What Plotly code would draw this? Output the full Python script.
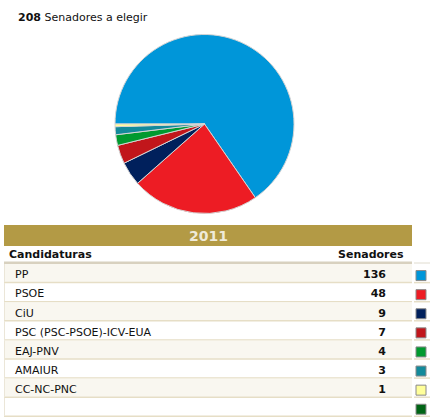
import plotly.graph_objects as go

# Senado 2011 - candidaturas y senadores
total = 208
anio = "2011"
partidos = ["PP", "PSOE", "CiU", "PSC (PSC-PSOE)-ICV-EUA", "EAJ-PNV", "AMAIUR", "CC-NC-PNC", ""]
senadores = [136, 48, 9, 7, 4, 3, 1, None]
colores = ["#0096d9", "#ed1c24", "#00205c", "#c1161b", "#009a2f", "#138a9b", "#ffff9a", "#006415"]

FONT = "DejaVu Sans"
W, H = 430, 418
row_top, row_h = 264, 19.1
# el texto queda algo por debajo del centro de la fila
centros = [row_top + row_h * (i + 0.5) + 2 for i in range(len(partidos))]

fig = go.Figure()

# tarta
fig.add_trace(go.Pie(
    labels=partidos[:7], values=senadores[:7],
    marker=dict(colors=colores[:7], line=dict(color="#d4d4d4", width=1)),
    sort=False, direction="clockwise", rotation=270,
    textinfo="none", hoverinfo="label+value", showlegend=False,
    domain=dict(x=[115 / W, 294 / W], y=[1 - 214 / H, 1 - 34 / H]),
))

# tabla: nombres, valores y cuadritos de color
fig.add_trace(go.Scatter(
    x=[15] * len(partidos), y=centros, mode="text", text=partidos,
    textposition="middle right", textfont=dict(family=FONT, size=11, color="#111"),
    hoverinfo="skip", showlegend=False,
))
fig.add_trace(go.Scatter(
    x=[386] * 7, y=centros[:7], mode="text", text=[f"<b>{v}</b>" for v in senadores[:7]],
    textposition="middle left", textfont=dict(family=FONT, size=11, color="#111"),
    hoverinfo="skip", showlegend=False,
))
fig.add_trace(go.Scatter(
    x=[421] * len(partidos), y=centros, mode="markers",
    marker=dict(symbol="square", size=10, color=colores, line=dict(color="#8a8a8a", width=1)),
    hoverinfo="skip", showlegend=False, cliponaxis=False,
))

shapes = []
# cabecera dorada
shapes.append(dict(type="rect", x0=4, x1=412, y0=225, y1=246, fillcolor="#b39a45", line_width=0, layer="below"))
# linea gruesa bajo la cabecera
shapes.append(dict(type="rect", x0=4, x1=412, y0=261.5, y1=264, fillcolor="#d8d1bf", line_width=0, layer="below"))
shapes.append(dict(type="line", x0=414, x1=430, y0=263, y1=263, line=dict(color="#e0dccf", width=1), layer="below"))
for i in range(len(partidos)):
    y0 = row_top + row_h * i
    y1 = y0 + row_h
    if i % 2 == 0:
        shapes.append(dict(type="rect", x0=4, x1=412, y0=y0, y1=y1 - 1, fillcolor="#f9f7f0", line_width=0, layer="below"))
    shapes.append(dict(type="line", x0=4, x1=412, y0=y1 - 0.5, y1=y1 - 0.5, line=dict(color="#e6dec6", width=1.5), layer="below"))
    shapes.append(dict(type="line", x0=414, x1=430, y0=y1 - 0.5, y1=y1 - 0.5, line=dict(color="#e6dec6", width=1.5), layer="below"))
    shapes.append(dict(type="line", x0=4.5, x1=4.5, y0=y0, y1=y1 - 1, line=dict(color="#ebe6d8", width=1), layer="below"))

annotations = [
    dict(x=16, y=17, text=f"<b>{total}</b> Senadores a elegir", showarrow=False,
         xanchor="left", yanchor="middle", font=dict(family=FONT, size=11, color="#111")),
    dict(x=208, y=236, text=f"<b>{anio}</b>", showarrow=False,
         xanchor="center", yanchor="middle", font=dict(family=FONT, size=14, color="#efead9")),
    dict(x=7, y=254, text="<b>Candidaturas</b>", showarrow=False,
         xanchor="left", yanchor="middle", font=dict(family=FONT, size=11, color="#111")),
    dict(x=406, y=254, text="<b>Senadores</b>", showarrow=False,
         xanchor="right", yanchor="middle", font=dict(family=FONT, size=11, color="#111")),
]

fig.update_layout(
    width=W, height=H, margin=dict(l=0, r=0, t=0, b=0),
    paper_bgcolor="white", plot_bgcolor="white",
    xaxis=dict(range=[0, W], visible=False, fixedrange=True, domain=[0, 1]),
    yaxis=dict(range=[H, 0], visible=False, fixedrange=True, domain=[0, 1]),
    shapes=shapes, annotations=annotations,
)

fig.write_html("out.html", config={"displayModeBar": False},
               post_script="document.body.style.margin='0';document.body.style.overflow='hidden';")
